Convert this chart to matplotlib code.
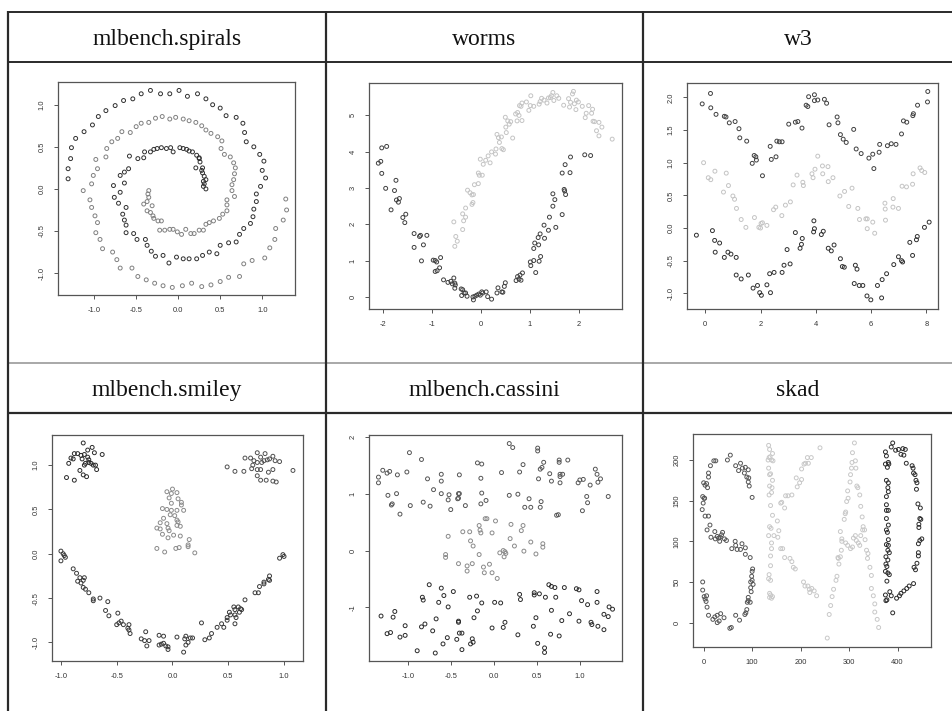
import matplotlib
matplotlib.use("Agg")
import matplotlib.pyplot as plt
from matplotlib.lines import Line2D

W, H = 953, 711

# ---------------- DATA ----------------
titles = ["mlbench.spirals", "worms", "w3", "mlbench.smiley", "mlbench.cassini", "skad"]

# spirals
spir_dark_x = [-1.31,-1.31,-1.28,-1.27,-1.22,-1.12,-1.02,-0.95,-0.86,-0.75,-0.65,-0.54,-0.44,-0.33,-0.21,-0.10,0.01,0.11,0.23,0.33,0.41,0.50,0.57,0.69,0.77,0.79,0.81,0.90,0.97,1.02,1.00,1.04,0.98,0.93,0.93,0.90,0.89,0.86,0.78,0.73,0.69,0.60,0.50,0.46,0.37,0.29,0.22,0.13,0.06,-0.02,-0.11,-0.18,-0.27,-0.32,-0.37,-0.39,-0.49,-0.53,-0.62,-0.62,-0.64,-0.66,-0.62,-0.71,-0.76,-0.69,-0.77,-0.64,-0.69,-0.64,-0.59,-0.58,-0.48,-0.41,-0.40,-0.33,-0.29,-0.25,-0.20,-0.14,-0.09,-0.06,0.02,0.06,0.10,0.13,0.17,0.22,0.25,0.25,0.26,0.21,0.29,0.28,0.29,0.31,0.33,0.30,0.31,0.30,0.33]
spir_dark_y = [0.12,0.24,0.36,0.49,0.60,0.68,0.76,0.86,0.93,0.99,1.05,1.07,1.13,1.17,1.13,1.13,1.17,1.10,1.13,1.07,1.00,0.96,0.87,0.85,0.78,0.67,0.56,0.50,0.41,0.33,0.22,0.13,0.03,-0.06,-0.15,-0.24,-0.33,-0.41,-0.47,-0.54,-0.63,-0.64,-0.67,-0.77,-0.75,-0.79,-0.83,-0.83,-0.83,-0.81,-0.88,-0.79,-0.80,-0.74,-0.67,-0.60,-0.60,-0.53,-0.52,-0.43,-0.37,-0.30,-0.22,-0.17,-0.10,-0.04,0.04,0.07,0.16,0.20,0.24,0.39,0.36,0.37,0.44,0.44,0.47,0.48,0.49,0.48,0.49,0.44,0.49,0.48,0.47,0.45,0.44,0.40,0.37,0.36,0.32,0.25,0.25,0.22,0.19,0.15,0.11,0.09,0.06,0.03,0.00]
spir_gray_x = [1.29,1.28,1.25,1.16,1.15,1.09,1.03,0.88,0.78,0.73,0.60,0.50,0.39,0.28,0.16,0.05,-0.07,-0.18,-0.28,-0.38,-0.48,-0.55,-0.69,-0.73,-0.78,-0.90,-0.93,-0.98,-0.96,-0.99,-1.03,-1.05,-1.13,-1.03,-1.01,-0.96,-0.98,-0.86,-0.85,-0.79,-0.72,-0.67,-0.57,-0.50,-0.44,-0.35,-0.27,-0.19,-0.10,-0.03,0.06,0.13,0.21,0.28,0.33,0.39,0.47,0.52,0.51,0.55,0.62,0.66,0.68,0.67,0.66,0.64,0.64,0.67,0.58,0.58,0.58,0.53,0.49,0.42,0.37,0.33,0.30,0.25,0.19,0.15,0.09,0.04,-0.01,-0.06,-0.10,-0.16,-0.22,-0.20,-0.24,-0.29,-0.30,-0.33,-0.37,-0.31,-0.41,-0.37,-0.35,-0.36,-0.35]
spir_gray_y = [-0.25,-0.12,-0.37,-0.47,-0.60,-0.70,-0.82,-0.85,-0.89,-1.04,-1.05,-1.10,-1.14,-1.16,-1.12,-1.15,-1.17,-1.15,-1.12,-1.08,-1.04,-0.94,-0.94,-0.84,-0.75,-0.71,-0.60,-0.52,-0.40,-0.32,-0.22,-0.13,-0.02,0.06,0.16,0.24,0.35,0.38,0.48,0.56,0.60,0.68,0.67,0.74,0.78,0.79,0.84,0.86,0.83,0.85,0.83,0.81,0.79,0.75,0.70,0.66,0.62,0.57,0.48,0.41,0.38,0.31,0.25,0.18,0.11,0.05,-0.02,-0.09,-0.13,-0.19,-0.26,-0.30,-0.35,-0.38,-0.40,-0.42,-0.49,-0.49,-0.53,-0.53,-0.48,-0.54,-0.51,-0.48,-0.48,-0.49,-0.49,-0.38,-0.38,-0.35,-0.32,-0.28,-0.26,-0.20,-0.18,-0.15,-0.10,-0.06,-0.02]

# worms
worm_dark_x = [-2.09,-2.04,-2.02,-2.02,-1.92,-1.94,-1.73,-1.83,-1.76,-1.72,-1.68,-1.66,-1.59,-1.53,-1.55,-1.36,-1.36,-1.25,-1.23,-1.17,-1.10,-1.21,-0.97,-0.93,-0.90,-0.93,-0.89,-0.84,-0.82,-0.76,-0.67,-0.61,-0.58,-0.55,-0.53,-0.52,-0.53,-0.40,-0.39,-0.37,-0.34,-0.31,-0.28,-0.16,-0.15,-0.12,-0.08,-0.04,-0.01,0.02,0.04,0.11,0.14,0.22,0.33,0.35,0.43,0.45,0.48,0.50,0.72,0.75,0.78,0.80,0.82,0.85,1.01,1.02,1.08,1.08,1.10,1.12,1.18,1.19,1.22,1.17,1.21,1.29,1.30,1.38,1.40,1.47,1.47,1.51,1.53,1.66,1.66,1.70,1.71,1.73,1.72,1.82,1.83,2.12,2.24]
worm_dark_y = [3.68,3.73,4.10,3.40,4.14,2.99,3.21,2.40,2.93,2.67,2.61,2.71,2.19,2.28,2.05,1.75,1.37,1.67,1.70,1.44,1.70,1.00,1.02,1.01,0.97,0.71,0.73,0.81,1.09,0.48,0.41,0.44,0.37,0.53,0.39,0.34,0.25,0.23,0.05,0.21,0.12,0.12,0.03,0.01,-0.07,0.03,0.06,0.09,0.06,0.15,0.12,0.15,0.02,-0.05,0.12,0.26,0.15,0.14,0.30,0.40,0.46,0.57,0.50,0.61,0.47,0.67,0.97,0.87,1.01,1.34,1.49,0.68,1.44,0.99,1.12,1.64,1.74,1.98,1.62,1.84,2.20,2.84,2.50,2.68,1.92,2.27,3.41,2.96,2.92,2.82,3.64,3.42,3.85,3.91,3.89]
worm_gray_x = [-0.55,-0.53,-0.51,-0.48,-0.37,-0.37,-0.35,-0.31,-0.31,-0.27,-0.22,-0.18,-0.18,-0.16,-0.15,-0.13,-0.05,-0.05,-0.03,-0.01,0.03,0.05,0.10,0.15,0.19,0.22,0.30,0.31,0.33,0.36,0.38,0.42,0.43,0.46,0.50,0.51,0.52,0.55,0.58,0.61,0.65,0.71,0.74,0.75,0.78,0.79,0.82,0.84,0.84,0.93,0.98,1.01,1.02,1.08,1.19,1.21,1.24,1.29,1.35,1.38,1.42,1.44,1.47,1.49,1.55,1.59,1.69,1.79,1.81,1.83,1.87,1.89,1.91,1.94,1.95,1.99,2.07,2.13,2.15,2.20,2.26,2.28,2.29,2.32,2.36,2.41,2.41,2.47,2.68]
worm_gray_y = [2.07,1.40,1.67,1.54,1.86,2.29,2.10,2.20,2.45,2.94,2.87,2.81,2.55,2.60,2.82,3.09,3.12,3.41,3.35,3.79,3.35,3.65,3.76,3.88,3.69,3.99,3.93,4.07,4.47,4.38,4.25,4.40,4.08,4.05,4.94,4.67,4.52,4.84,4.75,4.82,4.37,5.03,4.84,5.07,4.99,5.26,5.24,4.85,5.33,5.36,5.13,5.26,5.53,5.24,5.30,5.37,5.46,5.41,5.33,5.47,5.48,5.53,5.62,5.40,5.53,5.46,5.27,5.45,5.22,5.35,5.58,5.65,5.31,5.15,5.41,5.36,5.24,4.93,5.05,5.26,5.05,5.16,4.83,4.82,4.57,4.80,4.43,4.67,4.34]

# w3
w3_top_x = [-0.11,0.19,0.20,0.39,0.69,0.75,0.87,1.08,1.22,1.25,1.50,1.70,1.77,1.83,1.85,2.07,2.35,2.39,2.56,2.59,2.68,2.78,3.02,3.26,3.35,3.50,3.65,3.71,3.74,3.95,3.95,4.07,4.31,4.39,4.48,4.77,4.80,4.89,4.99,5.10,5.37,5.46,5.64,5.92,6.06,6.10,6.29,6.31,6.59,6.73,6.90,7.10,7.17,7.29,7.51,7.53,7.68,8.04,8.05]
w3_top_y = [1.90,2.06,1.84,1.74,1.71,1.70,1.61,1.63,1.52,1.38,1.33,0.99,1.11,1.09,1.04,0.80,1.25,1.05,1.09,1.33,1.32,1.32,1.59,1.62,1.63,1.53,1.88,1.86,2.01,2.04,1.95,1.96,1.97,1.91,1.58,1.70,1.61,1.43,1.36,1.31,1.51,1.21,1.14,1.07,1.13,0.91,1.16,1.28,1.26,1.29,1.28,1.44,1.64,1.62,1.72,1.75,1.88,1.93,2.09]
w3_bot_x = [-0.32,0.26,0.34,0.36,0.52,0.69,0.82,0.93,1.12,1.12,1.30,1.56,1.73,1.89,1.97,2.03,2.23,2.36,2.33,2.49,2.78,2.85,2.96,3.07,3.26,3.43,3.48,3.51,3.92,3.93,3.95,4.20,4.27,4.45,4.56,4.66,4.89,4.96,5.03,5.39,5.43,5.49,5.57,5.70,5.85,5.99,6.23,6.38,6.40,6.56,6.82,6.99,7.10,7.14,7.40,7.50,7.64,7.67,7.93,8.10]
w3_bot_y = [-0.11,-0.04,-0.19,-0.37,-0.23,-0.45,-0.37,-0.40,-0.45,-0.72,-0.78,-0.72,-0.92,-0.88,-0.99,-1.03,-0.87,-0.99,-0.70,-0.68,-0.68,-0.57,-0.33,-0.55,-0.07,-0.31,-0.25,-0.16,-0.06,0.11,-0.01,-0.10,-0.05,-0.31,-0.35,-0.26,-0.47,-0.59,-0.60,-0.85,-0.57,-0.63,-0.88,-0.88,-1.04,-1.10,-0.88,-1.07,-0.79,-0.70,-0.56,-0.44,-0.50,-0.52,-0.22,-0.42,-0.18,-0.13,0.01,0.09]
w3_mid_x = [-0.06,0.11,0.20,0.35,0.66,0.76,0.84,1.00,1.06,1.13,1.30,1.47,1.78,1.94,2.00,2.02,2.07,2.23,2.47,2.55,2.77,2.90,3.08,3.18,3.32,3.53,3.55,3.86,3.90,3.97,4.07,4.24,4.25,4.44,4.45,4.62,4.87,5.04,5.19,5.31,5.52,5.58,5.81,5.86,5.86,6.06,6.13,6.50,6.51,6.52,6.79,6.80,6.99,7.12,7.28,7.50,7.52,7.77,7.83,7.94]
w3_mid_y = [1.00,0.77,0.74,0.87,0.55,0.84,0.65,0.49,0.44,0.30,0.13,0.01,0.16,0.01,0.00,0.07,0.08,0.04,0.28,0.32,0.19,0.35,0.40,0.66,0.81,0.70,0.65,0.83,0.77,0.90,1.10,0.95,0.83,0.94,0.71,0.77,0.49,0.56,0.33,0.61,0.30,0.13,0.14,0.14,-0.01,0.09,-0.08,0.38,0.29,0.12,0.32,0.45,0.30,0.64,0.63,0.67,0.83,0.92,0.88,0.85]

# smiley
smi_leye_x = [-0.80,-0.72,-0.70,-0.76,-0.85,-0.88,-0.82,-0.79,-0.76,-0.91,-0.89,-0.81,-0.75,-0.75,-0.78,-0.73,-0.79,-0.93,-0.71,-0.69,-0.68,-0.63,-0.83,-0.80,-0.77,-0.95,-0.88]
smi_leye_y = [1.25,1.20,1.14,1.17,1.13,1.13,1.11,1.12,1.09,1.08,1.07,1.07,1.06,1.03,1.02,1.02,1.00,1.02,1.00,1.00,0.95,1.12,0.94,0.89,0.87,0.86,0.83]
smi_reye_x = [0.49,0.56,0.65,0.70,0.73,0.72,0.76,0.83,0.79,0.76,0.80,0.82,0.85,0.87,0.90,0.92,0.96,0.76,0.71,0.79,0.86,0.90,0.76,0.79,0.84,0.90,0.93,1.08,0.64]
smi_reye_y = [0.98,0.93,1.08,1.08,1.05,1.00,1.14,1.13,1.09,1.03,1.03,1.05,1.06,1.07,1.10,1.05,1.04,0.95,0.96,0.95,0.92,0.95,0.88,0.83,0.83,0.82,0.81,0.94,0.93]
smi_nose_x = [0.00,-0.05,-0.01,0.04,-0.03,0.05,0.08,-0.01,0.08,-0.09,-0.05,-0.01,0.04,0.10,-0.02,0.02,-0.08,0.04,0.05,-0.11,-0.05,0.04,0.07,-0.04,-0.14,-0.11,-0.03,-0.09,0.01,0.07,-0.04,0.15,0.14,0.14,-0.14,0.03,0.06,-0.07,0.20]
smi_nose_y = [0.73,0.70,0.68,0.69,0.63,0.62,0.58,0.57,0.55,0.51,0.50,0.49,0.49,0.49,0.44,0.43,0.40,0.38,0.36,0.35,0.34,0.32,0.31,0.29,0.29,0.28,0.26,0.22,0.21,0.20,0.18,0.16,0.10,0.08,0.06,0.06,0.07,0.02,0.01]
smi_mouth_x = [-1.00,-0.98,-1.00,-0.97,-0.96,-0.89,-0.86,-0.83,-0.79,-0.85,-0.80,-0.82,-0.80,-0.78,-0.75,-0.71,-0.71,-0.65,-0.58,-0.60,-0.57,-0.49,-0.50,-0.48,-0.46,-0.44,-0.40,-0.39,-0.39,-0.38,-0.24,-0.28,-0.25,-0.21,-0.23,-0.12,-0.08,-0.12,-0.10,-0.08,-0.06,-0.04,-0.04,0.04,0.10,0.12,0.11,0.12,0.14,0.16,0.18,0.26,0.29,0.33,0.35,0.40,0.44,0.46,0.49,0.49,0.51,0.52,0.55,0.56,0.56,0.57,0.56,0.59,0.60,0.61,0.62,0.65,0.74,0.77,0.78,0.82,0.82,0.86,0.87,0.87,0.96,0.99,1.00]
smi_mouth_y = [0.03,0.00,-0.08,-0.02,-0.04,-0.17,-0.22,-0.27,-0.27,-0.31,-0.30,-0.33,-0.38,-0.40,-0.44,-0.51,-0.53,-0.50,-0.54,-0.64,-0.70,-0.67,-0.80,-0.78,-0.76,-0.80,-0.84,-0.80,-0.86,-0.90,-0.88,-0.96,-0.98,-0.98,-1.04,-0.92,-0.93,-1.03,-1.02,-1.01,-1.04,-1.05,-1.08,-0.94,-1.11,-0.93,-0.96,-1.03,-1.00,-0.95,-0.95,-0.78,-0.97,-0.95,-0.90,-0.83,-0.79,-0.83,-0.72,-0.75,-0.66,-0.69,-0.60,-0.63,-0.69,-0.72,-0.79,-0.60,-0.66,-0.62,-0.63,-0.52,-0.44,-0.44,-0.37,-0.34,-0.32,-0.29,-0.25,-0.30,-0.05,-0.01,-0.03]

# cassini
cas_top_x = [-1.34,-1.34,-1.29,-1.24,-1.21,-1.23,-1.19,-1.18,-1.13,-1.12,-1.09,-1.01,-0.98,-0.97,-0.84,-0.82,-0.77,-0.74,-0.70,-0.61,-0.61,-0.61,-0.53,-0.52,-0.50,-0.41,-0.40,-0.42,-0.41,-0.40,-0.33,-0.19,-0.14,-0.15,-0.14,-0.15,-0.09,0.09,0.18,0.22,0.18,0.28,0.30,0.34,0.36,0.41,0.43,0.51,0.51,0.52,0.54,0.55,0.54,0.56,0.58,0.65,0.67,0.73,0.75,0.76,0.76,0.77,0.77,0.80,0.77,0.86,0.98,1.00,1.04,1.03,1.08,1.09,1.12,1.18,1.20,1.21,1.24,1.33]
cas_top_y = [1.29,1.19,1.41,1.36,1.39,0.97,0.80,0.82,1.00,1.33,0.64,1.38,1.72,0.79,1.60,0.85,1.26,0.78,1.07,1.34,1.22,1.00,0.89,0.98,0.72,1.00,1.00,0.91,0.92,1.33,0.79,1.54,1.52,1.27,1.01,0.82,0.88,1.37,1.88,1.81,0.97,0.99,1.38,1.51,0.76,0.91,0.76,1.80,1.75,1.26,0.76,0.86,1.43,1.46,1.55,1.35,1.22,0.62,0.63,1.59,1.55,1.30,1.34,1.34,1.19,1.59,1.19,1.24,1.25,0.70,0.95,0.84,1.15,1.43,1.34,1.20,1.26,0.95]
cas_mid_x = [-0.53,-0.56,-0.56,-0.41,-0.36,-0.31,-0.31,-0.28,-0.27,-0.25,-0.24,-0.17,-0.17,-0.16,-0.15,-0.12,-0.11,-0.10,-0.08,-0.05,-0.02,-0.02,0.02,0.04,0.07,0.11,0.12,0.13,0.14,0.19,0.20,0.24,0.32,0.34,0.35,0.43,0.49,0.57,0.57]
cas_mid_y = [0.25,-0.07,-0.12,-0.23,0.33,-0.27,-0.36,0.33,0.17,-0.23,0.08,-0.07,0.44,0.36,0.31,-0.29,-0.39,0.56,0.56,-0.24,0.31,-0.39,0.52,-0.49,-0.04,0.00,-0.11,-0.02,-0.05,0.21,0.46,0.08,0.35,0.44,-0.01,0.15,-0.06,0.12,0.06]
cas_bot_x = [-1.31,-1.17,-1.15,-1.24,-1.20,-1.09,-1.03,-1.03,-0.89,-0.84,-0.83,-0.82,-0.80,-0.75,-0.71,-0.68,-0.67,-0.64,-0.61,-0.59,-0.58,-0.54,-0.53,-0.47,-0.43,-0.41,-0.41,-0.40,-0.37,-0.37,-0.28,-0.27,-0.25,-0.24,-0.23,-0.20,-0.19,-0.14,-0.02,0.01,0.08,0.11,0.13,0.28,0.30,0.31,0.46,0.47,0.47,0.49,0.51,0.53,0.59,0.59,0.60,0.64,0.66,0.67,0.67,0.71,0.72,0.76,0.79,0.82,0.88,0.96,0.99,0.99,1.02,1.09,1.13,1.14,1.20,1.20,1.21,1.28,1.28,1.33,1.34,1.38]
cas_bot_y = [-1.15,-1.17,-1.07,-1.46,-1.44,-1.52,-1.32,-1.49,-1.76,-1.34,-0.82,-0.87,-1.29,-0.60,-1.41,-1.80,-1.20,-0.91,-0.66,-1.64,-0.79,-1.53,-0.99,-0.72,-1.56,-1.24,-1.26,-1.45,-1.45,-1.74,-0.82,-1.64,-1.55,-1.61,-1.18,-0.80,-1.06,-0.92,-1.36,-0.91,-0.92,-1.35,-1.26,-1.48,-0.77,-0.86,-1.33,-0.78,-0.74,-1.18,-1.63,-0.76,-1.71,-1.79,-0.82,-0.60,-1.47,-1.05,-0.63,-0.65,-0.82,-1.50,-1.23,-0.65,-1.11,-0.67,-0.69,-1.24,-0.88,-0.95,-1.26,-1.30,-0.72,-0.91,-1.33,-1.39,-1.12,-1.16,-0.99,-1.03]

# skad
skad_s_x = [-2,-2,1,6,3,5,7,10,19,23,28,28,32,35,42,54,57,66,74,85,87,89,90,92,92,96,98,97,97,100,102,99,100,101,96,86,86,76,79,69,66,65,58,47,43,39,37,34,33,31,28,23,24,15,13,7,3,10,-3,-1,-2,1,2,0,6,8,3,10,10,14,25,21,49,55,66,72,76,80,84,86,92,89,92,93,94,100]
skad_s_y = [50,40,32,33,29,26,19,9,4,7,9,0,2,11,6,-7,-6,9,3,10,12,16,25,27,31,25,38,43,50,52,47,57,63,66,80,84,92,90,97,90,95,100,91,101,103,111,108,105,100,104,106,112,103,105,120,114,131,131,139,147,155,153,153,172,171,166,169,179,184,193,199,199,200,206,193,187,196,190,184,191,188,179,173,178,168,154]
skad_ka_x = [134,136,137,135,133,140,142,143,134,136,138,142,136,141,140,135,138,142,136,139,134,140,140,138,138,135,134,138,136,138,136,140,142,145,152,153,155,159,161,167,169,174,182,193,191,198,202,202,207,214,210,216,222,240,159,163,167,178,182,185,189,206,209,215,218,219,223,228,233,255,259,262,265,268,273,275,279,278,282,285,285,282,290,292,293,295,298,297,302,303,305,306,307,311,313,314,316,318,322,324,327,329,332,333,336,339,338,343,346,346,350,353,353,358,361,293,297,303,307,309,315,319,322,313,324,328,284,277]
skad_ka_y = [218,213,204,203,200,200,208,199,190,182,183,175,168,166,160,157,144,132,118,116,107,98,91,82,70,59,54,52,36,34,31,30,32,107,125,105,113,147,148,141,156,156,157,167,178,172,176,189,195,203,196,196,203,215,91,91,80,79,75,68,66,50,45,45,41,37,42,39,33,-19,10,21,32,41,52,57,72,79,81,103,100,112,127,134,136,149,153,162,173,182,190,197,209,221,199,190,168,166,157,143,130,118,114,102,89,85,79,68,58,42,33,23,13,4,-6,98,95,91,93,104,101,98,95,107,107,114,89,80]
skad_d_x = [375,377,375,379,381,382,377,381,380,381,377,377,377,381,377,381,377,379,381,377,381,380,383,376,380,376,378,375,380,383,378,384,375,378,376,390,387,396,402,407,411,416,413,418,430,432,433,436,438,440,439,442,447,446,448,444,444,450,446,443,443,443,440,434,437,433,424,419,413,407,404,398,390,387]
skad_d_y = [210,205,195,191,197,195,175,172,166,161,155,145,138,138,128,120,114,111,102,96,95,89,86,81,77,72,69,63,61,59,51,38,34,28,27,221,216,212,213,207,214,213,206,196,193,190,184,182,175,172,164,146,141,128,127,121,117,103,101,97,86,82,73,68,65,48,45,42,39,36,33,30,12,33]

# ---------------- LAYOUT ----------------
fig = plt.figure(figsize=(W / 100, H / 100), dpi=100)
fig.patch.set_facecolor("white")

def fx(px):
    return px / W

def fy(py):
    return 1 - py / H

def hline(y, x0, x1, color, lw):
    fig.add_artist(Line2D([fx(x0), fx(x1)], [fy(y), fy(y)], color=color, lw=lw,
                          transform=fig.transFigure, solid_capstyle="butt"))

def vline(x, y0, y1, color, lw):
    fig.add_artist(Line2D([fx(x), fx(x)], [fy(y0), fy(y1)], color=color, lw=lw,
                          transform=fig.transFigure, solid_capstyle="butt"))

dark_line = "#2a2a2a"
hline(12, 7, 953, dark_line, 1.4)
hline(62, 7, 953, dark_line, 1.4)
hline(363, 7, 953, "#a8a8a8", 1.4)
hline(413, 7, 953, dark_line, 1.6)
for xv in (8, 326, 643):
    vline(xv, 11, 711, dark_line, 1.6)

col_centers = [167, 484.5, 798]
for i, t in enumerate(titles):
    r, c = divmod(i, 3)
    base = 45 if r == 0 else 396
    fig.text(fx(col_centers[c]), fy(base), t, ha="center", va="baseline",
             family=["Liberation Serif", "DejaVu Serif"], fontsize=17, color="#111111")

def make_ax(box, xlim, ylim, xticks, xlabels, yticks, ylabels):
    x0, x1, y0, y1 = box
    ax = fig.add_axes([fx(x0), fy(y1), (x1 - x0) / W, (y1 - y0) / H])
    ax.set_xlim(*xlim)
    ax.set_ylim(*ylim)
    for s in ax.spines.values():
        s.set_color("#555555")
        s.set_linewidth(0.9)
    ax.set_xticks(xticks)
    ax.set_xticklabels(xlabels, family=["Liberation Sans", "DejaVu Sans"])
    ax.set_yticks(yticks)
    ax.set_yticklabels(ylabels, rotation=90, va="center", family=["Liberation Sans", "DejaVu Sans"])
    ax.tick_params(axis="both", length=3, width=0.7, color="#555555",
                   labelsize=5.4, labelcolor="#333333", pad=6)
    return ax

def pts(ax, x, y, color):
    ax.scatter(x, y, s=8, facecolors="none", edgecolors=color, linewidths=0.7)

# spirals
ax = make_ax((58, 295, 82, 295), (-1.43, 1.39), (-1.26, 1.27),
             [-1, -0.5, 0, 0.5, 1], ["-1.0", "-0.5", "0.0", "0.5", "1.0"],
             [-1, -0.5, 0, 0.5, 1], ["-1.0", "-0.5", "0.0", "0.5", "1.0"])
pts(ax, spir_gray_x, spir_gray_y, "#808080")
pts(ax, spir_dark_x, spir_dark_y, "#303030")

# worms
ax = make_ax((369, 622, 83, 309), (-2.28, 2.88), (-0.32, 5.88),
             [-2, -1, 0, 1, 2], ["-2", "-1", "0", "1", "2"],
             [0, 1, 2, 3, 4, 5], ["0", "1", "2", "3", "4", "5"])
pts(ax, worm_gray_x, worm_gray_y, "#c4c4c4")
pts(ax, worm_dark_x, worm_dark_y, "#404040")

# w3
ax = make_ax((687, 938, 83, 309), (-0.66, 8.42), (-1.24, 2.22),
             [0, 2, 4, 6, 8], ["0", "2", "4", "6", "8"],
             [-1, -0.5, 0, 0.5, 1, 1.5, 2], ["-1.0", "-0.5", "0.0", "0.5", "1.0", "1.5", "2.0"])
pts(ax, w3_mid_x, w3_mid_y, "#c4c4c4")
pts(ax, w3_top_x, w3_top_y, "#404040")
pts(ax, w3_bot_x, w3_bot_y, "#303030")

# smiley
ax = make_ax((52, 303, 435, 661), (-1.08, 1.17), (-1.21, 1.34),
             [-1, -0.5, 0, 0.5, 1], ["-1.0", "-0.5", "0.0", "0.5", "1.0"],
             [-1, -0.5, 0, 0.5, 1], ["-1.0", "-0.5", "0.0", "0.5", "1.0"])
pts(ax, smi_nose_x, smi_nose_y, "#8a8a8a")
pts(ax, smi_reye_x, smi_reye_y, "#505050")
pts(ax, smi_leye_x, smi_leye_y, "#2a2a2a")
pts(ax, smi_mouth_x, smi_mouth_y, "#3a3a3a")

# cassini
ax = make_ax((369, 622, 435, 661), (-1.45, 1.49), (-1.94, 2.03),
             [-1, -0.5, 0, 0.5, 1], ["-1.0", "-0.5", "0.0", "0.5", "1.0"],
             [-1, 0, 1, 2], ["-1", "0", "1", "2"])
pts(ax, cas_mid_x, cas_mid_y, "#8a8a8a")
pts(ax, cas_top_x, cas_top_y, "#555555")
pts(ax, cas_bot_x, cas_bot_y, "#2a2a2a")

# skad
ax = make_ax((693, 931, 434, 647), (-22, 469), (-30, 232),
             [0, 100, 200, 300, 400], ["0", "100", "200", "300", "400"],
             [0, 50, 100, 150, 200], ["0", "50", "100", "150", "200"])
pts(ax, skad_ka_x, skad_ka_y, "#c8c8c8")
pts(ax, skad_s_x, skad_s_y, "#555555")
pts(ax, skad_d_x, skad_d_y, "#2a2a2a")

fig.savefig("out.png", dpi=100)
